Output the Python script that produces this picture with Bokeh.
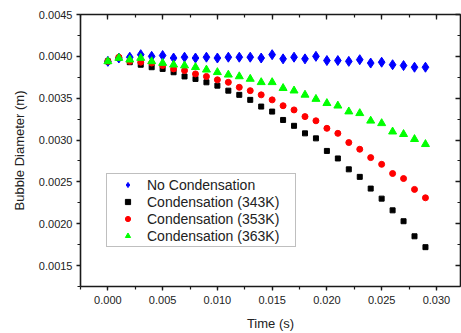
import numpy as np
from bokeh.plotting import figure
from bokeh.models import (LinearAxis, PrintfTickFormatter, Legend, LegendItem,
                          Range1d, SingleIntervalTicker, CustomJSTickFormatter)
from bokeh.embed import file_html
from bokeh.resources import INLINE

time_s = [0.000, 0.001, 0.002, 0.003, 0.004, 0.005, 0.006, 0.007, 0.008, 0.009,
          0.010, 0.011, 0.012, 0.013, 0.014, 0.015, 0.016, 0.017, 0.018, 0.019,
          0.020, 0.021, 0.022, 0.023, 0.024, 0.025, 0.026, 0.027, 0.028, 0.029]

no_cond = [0.00394, 0.00398, 0.00399, 0.00402, 0.00400, 0.00401, 0.00398, 0.00399, 0.00398, 0.00399,
           0.00398, 0.00399, 0.00399, 0.00399, 0.00398, 0.00402, 0.00397, 0.00399, 0.00397, 0.00400,
           0.00395, 0.00395, 0.00394, 0.00396, 0.00392, 0.00393, 0.00390, 0.00389, 0.00387, 0.00387]

cond_343 = [0.00394, 0.00398, 0.00393, 0.00390, 0.00387, 0.00385, 0.00381, 0.00376, 0.00373, 0.00369,
            0.00365, 0.00359, 0.00354, 0.00348, 0.00340, 0.00334, 0.00324, 0.00317, 0.00308, 0.00302,
            0.00287, 0.00278, 0.00265, 0.00256, 0.00242, 0.00230, 0.00216, 0.00203, 0.00185, 0.00172]

cond_353 = [0.00394, 0.00399, 0.00394, 0.00393, 0.00392, 0.00389, 0.00385, 0.00383, 0.00379, 0.00376,
            0.00372, 0.00369, 0.00363, 0.00359, 0.00354, 0.00348, 0.00341, 0.00336, 0.00328, 0.00323,
            0.00314, 0.00308, 0.00297, 0.00289, 0.00279, 0.00271, 0.00260, 0.00254, 0.00241, 0.00231]

cond_363 = [0.00394, 0.00398, 0.00396, 0.00398, 0.00394, 0.00392, 0.00390, 0.00389, 0.00387, 0.00384,
            0.00381, 0.00378, 0.00376, 0.00373, 0.00369, 0.00369, 0.00362, 0.00359, 0.00354, 0.00349,
            0.00344, 0.00341, 0.00334, 0.00332, 0.00323, 0.00320, 0.00310, 0.00307, 0.00301, 0.00295]

labels = ["No Condensation", "Condensation (343K)", "Condensation (353K)", "Condensation (363K)"]

FONT = "Liberation Sans"
AX = "#1a1a1a"

p = figure(width=461, height=333, output_backend="svg", toolbar_location=None,
           x_range=Range1d(-0.0025, 0.0322), y_range=Range1d(0.00125, 0.0045001),
           min_border_left=80, min_border_right=1, min_border_top=14, min_border_bottom=43,
           x_axis_label="Time (s)", y_axis_label="Bubble Diameter (m)")
p.outline_line_color = None
p.xgrid.visible = False
p.ygrid.visible = False
p.background_fill_color = "white"
p.border_fill_color = "white"

xt = SingleIntervalTicker(interval=0.005, num_minor_ticks=2)
yt = SingleIntervalTicker(interval=0.0005, num_minor_ticks=2)

for ax, tk, fmt in ((p.xaxis[0], xt, "%.3f"), (p.yaxis[0], yt, "%.4f")):
    ax.ticker = tk
    ax.formatter = PrintfTickFormatter(format=fmt)
    ax.axis_line_width = 1.6
    ax.axis_line_color = AX
    ax.major_tick_line_color = AX
    ax.minor_tick_line_color = AX
    ax.major_tick_line_width = 1.3
    ax.minor_tick_line_width = 1.2
    ax.major_tick_out = 4
    ax.major_tick_in = 0
    ax.minor_tick_out = 3
    ax.minor_tick_in = 0
    ax.major_label_text_font = FONT
    ax.major_label_text_font_size = "11px"
    ax.major_label_text_color = "#222222"
    ax.axis_label_text_font = FONT
    ax.axis_label_text_font_size = "13px"
    ax.axis_label_text_font_style = "normal"
    ax.axis_label_text_color = "#222222"

p.xaxis[0].major_label_standoff = 5
p.xaxis[0].axis_label_standoff = 9
p.yaxis[0].major_label_standoff = 4
p.yaxis[0].axis_label_standoff = 9

blank = CustomJSTickFormatter(code="return ''")
for loc, tk in (("above", xt), ("right", yt)):
    ax = LinearAxis(ticker=tk, formatter=blank)
    ax.major_label_standoff = 0
    ax.axis_line_width = 1.6
    ax.axis_line_color = AX
    ax.major_tick_line_color = AX
    ax.minor_tick_line_color = AX
    ax.major_tick_line_width = 1.3
    ax.minor_tick_line_width = 1.2
    ax.major_tick_out = 0
    ax.major_tick_in = 5
    ax.minor_tick_out = 0
    ax.minor_tick_in = 3
    p.add_layout(ax, loc)

r_blue = p.scatter(time_s, no_cond, marker="diamond", size=10,
                   fill_color="#0000ff", line_color="#0000ff")
r_black = p.scatter(time_s, cond_343, marker="square", size=5,
                    fill_color="#000000", line_color="#000000")
r_red = p.scatter(time_s, cond_353, marker="circle", size=6,
                  fill_color="#ff0000", line_color="#ff0000")
r_green = p.scatter(time_s, cond_363, marker="triangle", size=8,
                    fill_color="#00ff00", line_color="#00ff00")

legend = Legend(items=[LegendItem(label=labels[0], renderers=[r_blue]),
                       LegendItem(label=labels[1], renderers=[r_black]),
                       LegendItem(label=labels[2], renderers=[r_red]),
                       LegendItem(label=labels[3], renderers=[r_green])],
                location=(26, 39))
legend.padding = 2
legend.spacing = 0
legend.margin = 0
legend.glyph_width = 37
legend.glyph_height = 13
legend.label_height = 17
legend.label_width = 146
legend.label_standoff = 1
legend.label_text_font = FONT
legend.label_text_font_size = "14px"
legend.label_text_color = "#222222"
legend.border_line_color = "#808080"
legend.border_line_width = 1
legend.background_fill_color = "white"
legend.background_fill_alpha = 1
p.add_layout(legend, "center")

open("out.html", "w").write(file_html(p, INLINE))
